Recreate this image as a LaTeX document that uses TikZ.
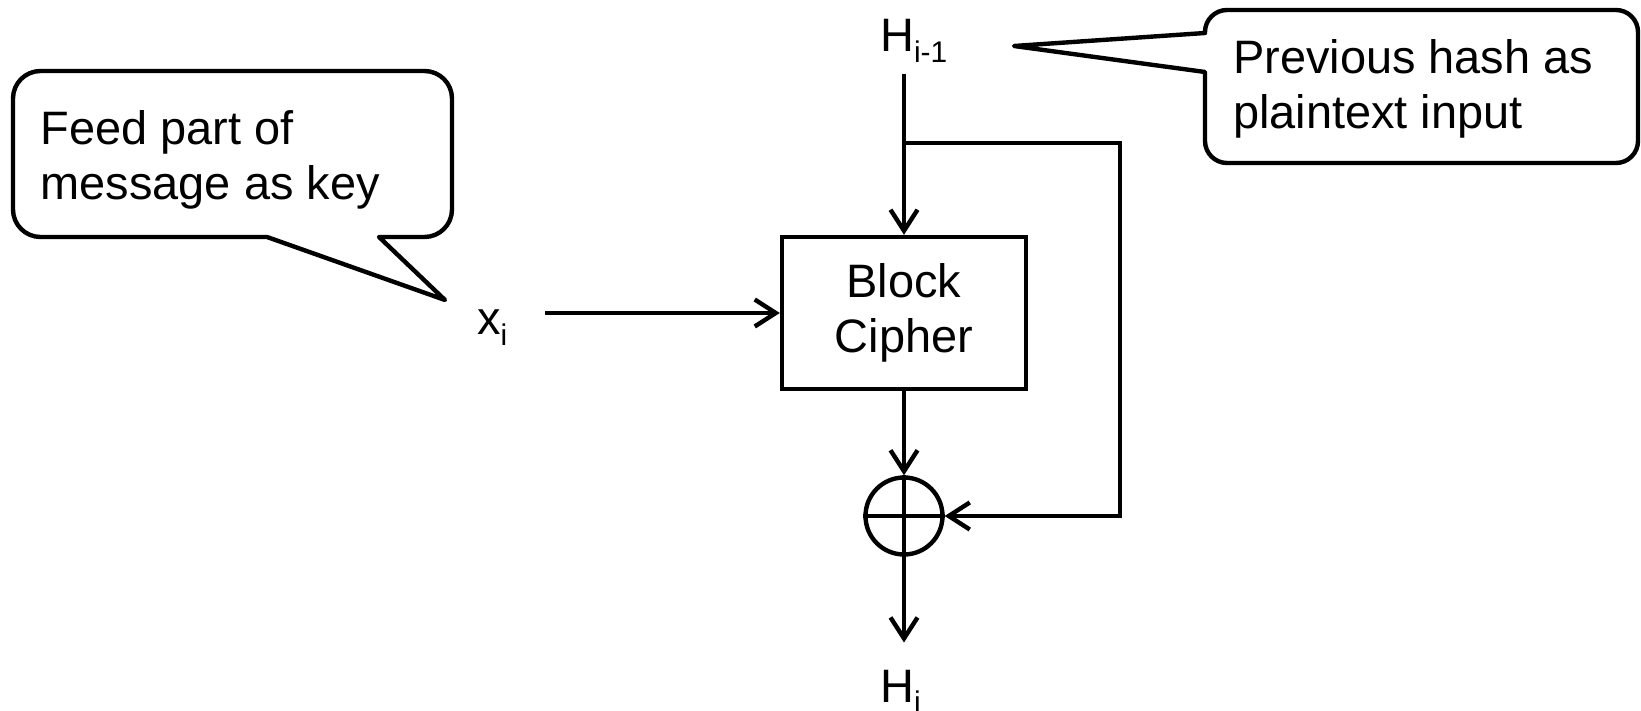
\documentclass[tikz,border=0pt]{standalone}
\usepackage{fontspec}
\setmainfont{Liberation Sans}
\usetikzlibrary{arrows.meta}
\newcommand\lowsub[1]{\raisebox{-0.22em}{\fontsize{17}{17}\selectfont #1}}

\begin{document}
\begin{tikzpicture}[
  font=\fontsize{26.7}{31.3}\selectfont,
  line width=2.5pt,
  blk/.style={draw, inner sep=0pt, minimum width=4.88cm, minimum height=3.04cm, align=center},
  xorsym/.style={draw, circle, inner sep=0pt, minimum size=1.54cm},
  sym/.style={inner sep=0pt, anchor=base west},
  note/.style={inner sep=0pt, anchor=base west, align=left},
  bubble/.style={line join=round},
  arr/.style={-{Straight Barb[length=4.2mm,width=5.4mm]}}
]
\useasboundingbox (0,0) rectangle (32.82,14.2);
\node[blk] (cipher) at (18.08,7.94) {Block\\Cipher};
\node[xorsym] (xor) at (18.08,3.88) {};
\draw (xor.north) -- (xor.south) (xor.west) -- (xor.east);
\node[sym] (hprev) at (17.56,13.16) {H\lowsub{i-1}};
\node[sym] (hnext) at (17.56,0.16) {H\lowsub{i}};
\node[sym] (xi) at (9.50,7.50) {x\lowsub{i}};
\node[note] (keytxt) at (0.77,10.20) {Feed part of\\message as key};
\node[note] (hashtxt) at (24.62,11.62) {Previous hash as\\plaintext input};
\coordinate (split) at (18.08,11.34);
\coordinate (fb) at (22.40,11.34);
\draw[arr, shorten <=0.19cm] (hprev.south -| cipher) -- (cipher);
\draw[arr] (split) -- (fb) |- (xor.east);
\draw[arr, shorten <=0.72cm] (xi.east |- cipher.west) -- (cipher.west);
\draw[arr] (cipher) -- (xor);
\draw[arr, shorten >=0.5cm] (xor) -- (hnext.north -| xor);
\draw[bubble] (7.58,9.46) -- (8.90,8.20) -- (5.34,9.46) -- (0.81,9.46) arc[start angle=270, end angle=180, radius=0.55] -- (0.26,12.23) arc[start angle=180, end angle=90, radius=0.55] -- (8.49,12.78) arc[start angle=90, end angle=0, radius=0.55] -- (9.04,10.01) arc[start angle=0, end angle=-90, radius=0.55] -- cycle;
\draw[bubble] (24.10,13.54) -- (20.28,13.28) -- (24.10,12.76) -- (24.10,11.38) arc[start angle=180, end angle=270, radius=0.44] -- (32.32,10.94) arc[start angle=270, end angle=360, radius=0.44] -- (32.76,13.56) arc[start angle=0, end angle=90, radius=0.44] -- (24.54,14.00) arc[start angle=90, end angle=180, radius=0.44] -- cycle;
\end{tikzpicture}
\end{document}
